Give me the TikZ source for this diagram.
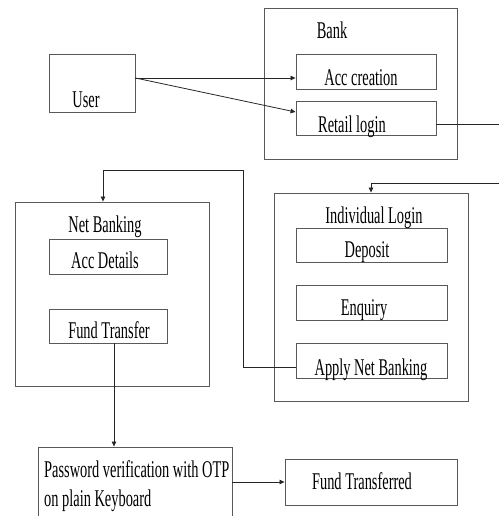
\documentclass[tikz,border=0pt]{standalone}
\usepackage{fontspec}
\setmainfont{Liberation Serif}[FakeStretch=0.6]
\usetikzlibrary{arrows.meta,calc}
\begin{document}
\begin{tikzpicture}[x=1pt,y=-1pt,
  box/.style={draw=black!65,line width=0.9pt,inner sep=0pt,rectangle},
  txt/.style={inner sep=0pt,anchor=base,font=\fontsize{24}{29}\selectfont},
  conn/.style={draw=black!85,line width=0.8pt},
  arr/.style={conn,-{Triangle[length=5pt,width=4.5pt]}}]
\useasboundingbox (0,0) rectangle (499,516);
% boxes
\node[box,minimum width=86pt,minimum height=58pt] (user) at (92,83) {};
\node[box,minimum width=193pt,minimum height=151pt] (bank) at (360.5,83.5) {};
\node[box,minimum width=140pt,minimum height=35pt] (acc) at (366,71.5) {};
\node[box,minimum width=140pt,minimum height=34pt] (retail) at (366,118) {};
\node[box,minimum width=194pt,minimum height=184pt] (netb) at (112,294) {};
\node[box,minimum width=118pt,minimum height=35pt] (accd) at (108,256.5) {};
\node[box,minimum width=118pt,minimum height=34pt] (fundt) at (108,326) {};
\node[box,minimum width=194pt,minimum height=208pt] (indiv) at (371,297) {};
\node[box,minimum width=151pt,minimum height=34pt] (dep) at (371.5,245) {};
\node[box,minimum width=151pt,minimum height=35pt] (enq) at (371.5,302.5) {};
\node[box,minimum width=151pt,minimum height=35pt] (apply) at (371.5,360.5) {};
\node[box,minimum width=194pt,minimum height=83pt] (pwd) at (135,488.5) {};
\node[box,minimum width=172pt,minimum height=46pt] (ft) at (371,482) {};
% texts
\node[txt] (tUser) at (86,107) {User};
\node[txt] (tBank) at (332,39) {Bank};
\node[txt] (tAcc) at (361,86) {Acc creation};
\node[txt] (tRetail) at (352,132) {Retail login};
\node[txt] (tNet) at (105,232) {Net Banking};
\node[txt] (tAccD) at (105,268) {Acc Details};
\node[txt] (tFund) at (109,338) {Fund Transfer};
\node[txt] (tIndiv) at (374,223) {Individual Login};
\node[txt] (tDep) at (367,257) {Deposit};
\node[txt] (tEnq) at (364,315) {Enquiry};
\node[txt] (tApply) at (371,375) {Apply Net Banking};
\node[txt,anchor=base west] (tPwd1) at (44,477) {Password verification with OTP};
\node[txt,anchor=base west] (tPwd2) at (44,506) {on plain Keyboard};
\node[txt] (tFT) at (362,489) {Fund Transferred};
% coordinates
\coordinate (c1) at (499,124);
\coordinate (c2) at (499,183);
\coordinate (k1) at (243,170);
% connectors
\draw[arr] ([yshift=5pt]user.east) -- ([yshift=-6.5pt]acc.west);
\draw[arr] ([yshift=5pt]user.east) -- ([yshift=6pt]retail.west);
\draw[conn] ([yshift=-6pt]retail.east) -- (c1);
\draw[arr] (c2) -| (indiv.north);
\draw[arr] ([yshift=-6.5pt]apply.west) -| (k1) -| ([xshift=-9pt]netb.north);
\draw[arr] ([xshift=6pt]fundt.south) -- ([xshift=6pt]fundt.south |- pwd.north);
\draw[arr] (pwd.east |- ft.west) -- (ft.west);
\end{tikzpicture}
\end{document}
